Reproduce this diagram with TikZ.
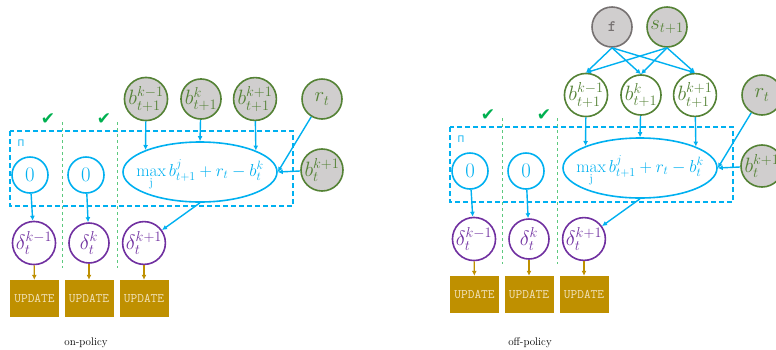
\documentclass[tikz,border=0pt]{standalone}
\usepackage{amsmath}
\usepackage{fontspec}
\newfontfamily\symfont{DejaVu Sans}
\usetikzlibrary{arrows.meta,shapes.geometric,positioning}
\definecolor{cblue}{HTML}{00B0F0}
\definecolor{cgreen}{HTML}{548235}
\definecolor{cgray}{HTML}{D0CECE}
\definecolor{cfgray}{HTML}{767171}
\definecolor{cpurple}{HTML}{7030A0}
\definecolor{cgold}{HTML}{BF9000}
\definecolor{ccream}{HTML}{F2E4BE}
\definecolor{ctick}{HTML}{00B050}
\definecolor{csep}{HTML}{5CC97E}

\begin{document}
\begin{tikzpicture}[x=1pt,y=-1pt,
	var/.style={circle,draw=cgreen,line width=1.6pt,fill=cgray,text=cgreen,minimum size=40pt,inner sep=0pt,font=\huge},
	nxt/.style={var,fill=white},
	fnode/.style={var,draw=cfgray,text=cfgray,font=\ttfamily\bfseries\fontsize{16}{18}\selectfont},
	zero/.style={circle,draw=cblue,line width=1.6pt,text=cblue,minimum size=36pt,inner sep=0pt,font=\huge},
	est/.style={ellipse,draw=cblue,line width=1.6pt,text=cblue,minimum width=154pt,minimum height=60pt,inner sep=0pt,text height=8pt,text depth=0pt,font=\LARGE},
	td/.style={circle,draw=cpurple,line width=1.6pt,text=cpurple,minimum size=40pt,inner sep=0pt,font=\huge},
	upd/.style={fill=cgold,text=ccream,minimum width=49pt,minimum height=37pt,inner sep=0pt,text height=7pt,text depth=-9pt,font=\ttfamily\fontsize{13}{15}\selectfont},
	arr/.style={draw=cblue,line width=1.4pt,-{Latex[length=5pt,width=5pt]}},
	garr/.style={draw=cgold,line width=1.4pt,-{Latex[length=5pt,width=5pt]}},
	plate/.style={draw=cblue,line width=1.4pt,dash pattern=on 5pt off 3pt},
	sep/.style={draw=csep,line width=1pt,dash pattern=on 3pt off 3pt},
	tick/.style={text=ctick,font=\symfont\fontsize{17}{19}\selectfont},
	caption/.style={font=\fontsize{11}{13}\selectfont}]
	\useasboundingbox (0,0) rectangle (776,349);
	% shared part of both panels
	\foreach \s/\dx/\dy in {L/0/0,R/440/-4}{
		\begin{scope}[shift={(\dx,\dy)}]
			\draw[plate] (10,131) rectangle (293,206);
			\draw[sep] (62,122) -- (62,268);
			\draw[sep] (117,122) -- (117,268);
			\node[tick] at (48,119) {✔};
			\node[tick] at (104,119) {✔};
			\node[text=cblue,font=\symfont\fontsize{9}{11}\selectfont] at (21,143) {Π};
			\node[zero] (za\s) at (30,175) {$0$};
			\node[zero] (zb\s) at (86,175) {$0$};
			\node[est] (ell\s) at (200,172) {\makebox[0pt]{$\max\limits_{\mathrm{j}} b^{j}_{t+1}+r_t-b^{k}_t$}};
			\node[td] (da\s) at (34,243) {$\delta^{k-1}_t$};
			\node[td] (db\s) at (89,243) {$\delta^{k}_t$};
			\node[td] (dc\s) at (144,243) {$\delta^{k+1}_t$};
			\node[upd] (ua\s) at (34.5,298.5) {UPDATE};
			\node[upd] (ub\s) at (89,298.5) {UPDATE};
			\node[upd] (uc\s) at (144,298.5) {UPDATE};
		\end{scope}
		\draw[arr] (za\s) -- (da\s);
		\draw[arr] (zb\s) -- (db\s);
		\draw[arr] (ell\s.south) -- (dc\s);
		\draw[garr] (da\s) -- (ua\s);
		\draw[garr] (db\s) -- (ub\s);
		\draw[garr] (dc\s) -- (uc\s);
	}
	% on-policy inputs
	\node[var] (bkmL) at (146,99) {$b^{k-1}_{t+1}$};
	\node[var] (bkL) at (201,99) {$b^{k}_{t+1}$};
	\node[var] (bkpL) at (255,99) {$b^{k+1}_{t+1}$};
	\node[var] (rL) at (322,99) {$r_t$};
	\node[var] (btL) at (322,170) {$b^{k+1}_t$};
	% off-policy inputs
	\node[fnode] (f) at (612,27) {f};
	\node[var] (s) at (667,27) {$s_{t+1}$};
	\node[nxt] (bkmR) at (586,95) {$b^{k-1}_{t+1}$};
	\node[nxt] (bkR) at (641,95) {$b^{k}_{t+1}$};
	\node[nxt] (bkpR) at (695,95) {$b^{k+1}_{t+1}$};
	\node[var] (rR) at (762,95) {$r_t$};
	\node[var] (btR) at (762,166) {$b^{k+1}_t$};
	\foreach \b in {bkmR,bkR,bkpR}{
		\draw[arr] (f.south) -- (\b.north);
		\draw[arr] (s.south) -- (\b.north);
	}
	\foreach \s in {L,R}{
		\draw[arr] (bkm\s) -- (ell\s.158);
		\draw[arr] (bk\s) -- (ell\s.north);
		\draw[arr] (bkp\s) -- (ell\s.21);
		\draw[arr] (r\s) -- (ell\s.east);
		\draw[arr] (bt\s) -- (ell\s.east);
	}
	\node[caption] at (86,343) {on-policy};
	\node[caption] at (530,343) {off-policy};
\end{tikzpicture}
\end{document}
